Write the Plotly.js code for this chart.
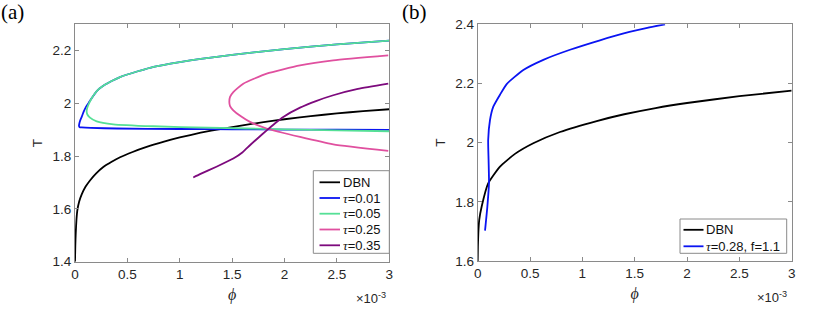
<!DOCTYPE html>
<html>
<head>
<meta charset="utf-8">
<script src="https://cdn.plot.ly/plotly-3.0.1.min.js"></script>
<style>html,body{margin:0;padding:0;background:#fff;}</style>
</head>
<body>
<div id="chart" style="width:830px;height:310px;"></div>
<script>
// ---------- data (phi in units of 1e-3) ----------
const dbnA_phi = [0, 0.003, 0.007, 0.014, 0.022, 0.04, 0.064, 0.1, 0.143, 0.2, 0.27, 0.35, 0.43, 0.55, 0.684, 0.85, 1.0, 1.2, 1.4, 1.6, 1.8, 2.0, 2.25, 2.5, 2.75, 3.0];
const dbnA_T   = [1.40, 1.46, 1.507, 1.56, 1.594, 1.628, 1.655, 1.684, 1.708, 1.734, 1.759, 1.779, 1.796, 1.816, 1.835, 1.855, 1.871, 1.889, 1.904, 1.917, 1.929, 1.940, 1.952, 1.962, 1.971, 1.978];

const tau001_phi = [3.0, 2.5, 2.0, 1.5, 1.2, 1.0, 0.75, 0.6, 0.43, 0.35, 0.27, 0.21, 0.159, 0.13, 0.105, 0.08, 0.064, 0.05, 0.042, 0.038, 0.045, 0.064, 0.15, 0.4, 1.0, 1.5, 2.0, 2.5, 3.0];
const tau001_T   = [2.238, 2.224, 2.206, 2.184, 2.169, 2.157, 2.139, 2.122, 2.100, 2.085, 2.067, 2.048, 2.020, 2.002, 1.987, 1.966, 1.949, 1.936, 1.925, 1.915, 1.910, 1.909, 1.907, 1.905, 1.903, 1.902, 1.901, 1.9005, 1.900];

const tau005_phi = [3.0, 2.5, 2.0, 1.5, 1.2, 1.0, 0.75, 0.6, 0.43, 0.35, 0.27, 0.21, 0.159, 0.135, 0.118, 0.111, 0.118, 0.143, 0.207, 0.366, 0.747, 1.27, 2.0, 2.5, 3.0];
const tau005_T   = [2.238, 2.224, 2.206, 2.184, 2.169, 2.157, 2.139, 2.122, 2.100, 2.085, 2.067, 2.048, 2.020, 2.001, 1.985, 1.970, 1.958, 1.946, 1.932, 1.921, 1.9135, 1.908, 1.902, 1.898, 1.8946];

const tau025_phi = [2.99, 2.465, 2.148, 1.83, 1.606, 1.511, 1.48, 1.473, 1.48, 1.511, 1.58, 1.67, 1.83, 2.148, 2.465, 2.99];
const tau025_T   = [2.182, 2.163, 2.144, 2.113, 2.075, 2.043, 2.025, 2.0055, 1.99, 1.974, 1.952, 1.930, 1.905, 1.873, 1.845, 1.820];

const tau035_phi = [1.129, 1.193, 1.35, 1.511, 1.6, 1.67, 1.75, 1.83, 1.91, 1.988, 2.148, 2.3, 2.465, 2.7, 2.99];
const tau035_T   = [1.7194, 1.732, 1.760, 1.791, 1.815, 1.8416, 1.870, 1.898, 1.925, 1.949, 1.984, 2.009, 2.031, 2.055, 2.075];

const dbnB_phi = [0, 0.002, 0.006, 0.015, 0.038, 0.10, 0.213, 0.356, 0.531, 0.786, 1.137, 1.4, 1.7, 2.0, 2.5, 3.0];
const dbnB_T   = [1.60, 1.65, 1.694, 1.74, 1.784, 1.862, 1.919, 1.962, 1.998, 2.036, 2.073, 2.096, 2.117, 2.134, 2.157, 2.176];

const tau028_phi = [0.070, 0.092, 0.108, 0.104, 0.10, 0.1175, 0.149, 0.213, 0.277, 0.436, 0.627, 0.882, 1.168, 1.45, 1.62, 1.79];
const tau028_T   = [1.7025, 1.783, 1.864, 1.939, 2.009, 2.0765, 2.1215, 2.162, 2.198, 2.2455, 2.280, 2.314, 2.346, 2.374, 2.388, 2.400];

const namesA = ['DBN', 'τ=0.01', 'τ=0.05', 'τ=0.25', 'τ=0.35'];
const namesB = ['DBN', 'τ=0.28, f=1.1'];
const xTicks = [0, 0.5, 1, 1.5, 2, 2.5, 3];
const yTicksA = [1.4, 1.6, 1.8, 2, 2.2];
const yTicksB = [1.6, 1.8, 2, 2.2, 2.4];

// ---------- styles ----------
const colorsA = ['#000000', '#0a14f2', '#55e096', '#e0509f', '#7d0a7d'];
const colorsB = ['#000000', '#0a14f2'];
const W = 830, H = 310;
const px = x => x / W;
const py = y => 1 - y / H;
const LW = 1.8;
const sansFont = 'Liberation Sans, Arial, Helvetica, sans-serif';
const serifFont = 'Liberation Serif, Times New Roman, serif';
const tickSize = 13.5;
const legSize = 13;

const seriesA = [[dbnA_phi, dbnA_T], [tau001_phi, tau001_T], [tau005_phi, tau005_T], [tau025_phi, tau025_T], [tau035_phi, tau035_T]];
const seriesB = [[dbnB_phi, dbnB_T], [tau028_phi, tau028_T]];

const traces = [];
seriesA.forEach((s, i) => traces.push({
  x: s[0], y: s[1], xaxis: 'x', yaxis: 'y', type: 'scatter', mode: 'lines', name: namesA[i],
  line: {color: colorsA[i], width: LW, shape: 'spline', smoothing: 0.5}, showlegend: false, hoverinfo: 'skip'
}));
seriesB.forEach((s, i) => traces.push({
  x: s[0], y: s[1], xaxis: 'x2', yaxis: 'y2', type: 'scatter', mode: 'lines', name: namesB[i],
  line: {color: colorsB[i], width: LW, shape: 'spline', smoothing: 0.5}, showlegend: false, hoverinfo: 'skip'
}));

const axisLine = '#8a8a8a';
function xAx(domain, anchor) {
  return {
    domain: domain, anchor: anchor, range: [0, 3], tickvals: xTicks, ticktext: xTicks.map(String),
    showline: true, linecolor: axisLine, linewidth: 1, mirror: 'allticks', ticks: 'inside', ticklen: 4,
    tickcolor: axisLine, showgrid: false, zeroline: false,
    tickfont: {family: sansFont, size: tickSize, color: '#262626'},
    title: {text: '<i>ϕ</i>', font: {family: serifFont, size: 16, color: '#262626'}, standoff: 7}
  };
}
function yAx(domain, anchor, range, ticks) {
  return {
    domain: domain, anchor: anchor, range: range, tickvals: ticks, ticktext: ticks.map(String),
    showline: true, linecolor: axisLine, linewidth: 1, mirror: 'allticks', ticks: 'inside', ticklen: 4,
    tickcolor: axisLine, showgrid: false, zeroline: false,
    tickfont: {family: sansFont, size: tickSize, color: '#262626'},
    title: {text: 'T', font: {family: sansFont, size: 13.5, color: '#262626'}, standoff: 6}
  };
}

const shapes = [];
const annotations = [];
function legendText(name) {
  return name.replace('τ', '<span style="font-family:Liberation Serif;font-style:italic">τ</span>');
}
function addLegend(box, names, colors, yCenters, lineX0, lineX1, textX) {
  shapes.push({type: 'rect', xref: 'paper', yref: 'paper', x0: px(box[0]), x1: px(box[2]), y0: py(box[3]), y1: py(box[1]),
    line: {color: '#8a8a8a', width: 1}, fillcolor: '#ffffff', layer: 'above'});
  names.forEach((n, i) => {
    shapes.push({type: 'line', xref: 'paper', yref: 'paper', x0: px(lineX0), x1: px(lineX1), y0: py(yCenters[i]), y1: py(yCenters[i]),
      line: {color: colors[i], width: LW}, layer: 'above'});
    annotations.push({xref: 'paper', yref: 'paper', x: px(textX), y: py(yCenters[i]), xanchor: 'left', yanchor: 'middle',
      text: legendText(n), showarrow: false, font: {family: sansFont, size: legSize, color: '#111111'}});
  });
}
addLegend([313.3, 170.7, 389.3, 253.3], namesA, colorsA, [182.3, 198, 213.7, 229.5, 245.3], 319.5, 340, 340.5);
addLegend([680, 219, 786.7, 253.3], namesB, colorsB, [229.8, 246.3], 683.5, 703.5, 704);

// exponent labels and panel labels
annotations.push({xref: 'paper', yref: 'paper', x: px(388), y: py(298), xanchor: 'right', yanchor: 'middle',
  text: '×10<sup>-3</sup>', showarrow: false, font: {family: sansFont, size: 13, color: '#262626'}});
annotations.push({xref: 'paper', yref: 'paper', x: px(789), y: py(297), xanchor: 'right', yanchor: 'middle',
  text: '×10<sup>-3</sup>', showarrow: false, font: {family: sansFont, size: 13, color: '#262626'}});
annotations.push({xref: 'paper', yref: 'paper', x: px(-1), y: py(12), xanchor: 'left', yanchor: 'middle',
  text: '(a)', showarrow: false, font: {family: serifFont, size: 21, color: '#000000'}});
annotations.push({xref: 'paper', yref: 'paper', x: px(400), y: py(12), xanchor: 'left', yanchor: 'middle',
  text: '(b)', showarrow: false, font: {family: serifFont, size: 21, color: '#000000'}});

const layout = {
  width: W, height: H, margin: {l: 0, r: 0, t: 0, b: 0},
  paper_bgcolor: '#ffffff', plot_bgcolor: '#ffffff', showlegend: false,
  xaxis: xAx([75 / W, 389.3 / W], 'y'),
  yaxis: yAx([1 - 261.7 / H, 1 - 24.3 / H], 'x', [1.4, 2.3], yTicksA),
  xaxis2: xAx([477.7 / W, 791.7 / W], 'y2'),
  yaxis2: yAx([1 - 261 / H, 1 - 24.3 / H], 'x2', [1.6, 2.4], yTicksB),
  shapes: shapes, annotations: annotations
};

Plotly.newPlot('chart', traces, layout, {staticPlot: true, displayModeBar: false});
</script>
</body>
</html>
